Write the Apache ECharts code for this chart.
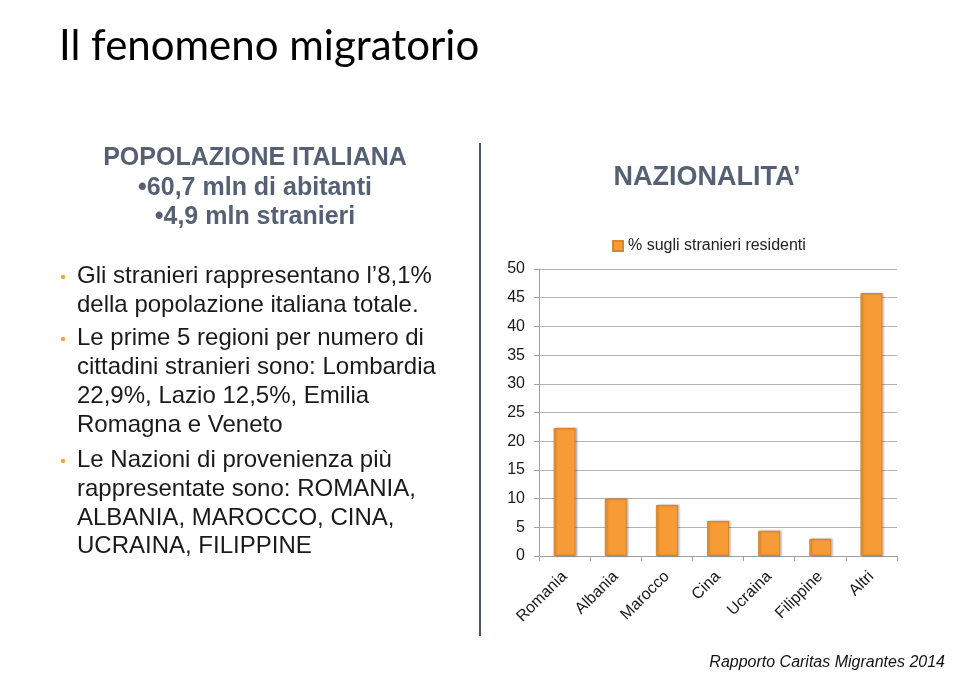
<!DOCTYPE html>
<html>
<head>
<meta charset="utf-8">
<script src="https://cdn.jsdelivr.net/npm/echarts@6/dist/echarts.min.js"></script>
<style>
  html, body { margin: 0; padding: 0; background: #fff; }
  #chart { width: 960px; height: 674px; }
</style>
</head>
<body>
<div id="chart"></div>
<script>
var nazioni = ['Romania', 'Albania', 'Marocco', 'Cina', 'Ucraina', 'Filippine', 'Altri'];
var percentuali = [22.3, 10.0, 8.9, 6.1, 4.4, 3.0, 45.8];
var yTicks = [0, 5, 10, 15, 20, 25, 30, 35, 40, 45, 50];
var nomeSerie = '% sugli stranieri residenti';

var testoBlu = '#566075';
var arial = '"Liberation Sans", Arial, sans-serif';
var puntiLista = [
    { y: 276, text: 'Gli stranieri rappresentano l\u20198,1%' },
    { y: 305, text: 'della popolazione italiana totale.', noBullet: true },
    { y: 338, text: 'Le prime 5 regioni per numero di' },
    { y: 367, text: 'cittadini stranieri sono: Lombardia', noBullet: true },
    { y: 396, text: '22,9%, Lazio 12,5%, Emilia', noBullet: true },
    { y: 425, text: 'Romagna e Veneto', noBullet: true },
    { y: 460, text: 'Le Nazioni di provenienza più' },
    { y: 489, text: 'rappresentate sono: ROMANIA,', noBullet: true },
    { y: 518, text: 'ALBANIA, MAROCCO, CINA,', noBullet: true },
    { y: 546, text: 'UCRAINA, FILIPPINE', noBullet: true }
];

var chart = echarts.init(document.getElementById('chart'));

// elementi di testo della slide
var grafica = [
    { type: 'text', x: 59, y: 25, style: { text: 'Il fenomeno migratorio', font: '42px Lato, sans-serif', fill: '#000', verticalAlign: 'top' } },
    { type: 'text', x: 255, y: 158, style: { text: 'POPOLAZIONE ITALIANA', font: 'bold 25px ' + arial, fill: testoBlu, align: 'center', verticalAlign: 'middle' } },
    { type: 'text', x: 255, y: 188, style: { text: '\u202260,7 mln di abitanti', font: 'bold 25px ' + arial, fill: testoBlu, align: 'center', verticalAlign: 'middle' } },
    { type: 'text', x: 255, y: 217, style: { text: '\u20224,9 mln stranieri', font: 'bold 25px ' + arial, fill: testoBlu, align: 'center', verticalAlign: 'middle' } },
    { type: 'line', shape: { x1: 480, y1: 143, x2: 480, y2: 636 }, style: { stroke: '#4d5566', lineWidth: 2 } },
    { type: 'text', right: 15, top: 655, style: { text: 'Rapporto Caritas Migrantes 2014', font: 'italic 16px ' + arial, fill: '#111' } }
];
puntiLista.forEach(function (p) {
    if (!p.noBullet) {
        grafica.push({ type: 'circle', shape: { cx: 63, cy: p.y + 1, r: 2.2 }, style: { fill: '#f0a830' } });
    }
    grafica.push({ type: 'text', x: 77, y: p.y, style: { text: p.text, font: '24px ' + arial, fill: '#1a1a1a', verticalAlign: 'middle' } });
});

var option = {
    animation: false,
    title: {
        text: 'NAZIONALITA\u2019',
        left: 702,
        top: 159,
        textAlign: 'center',
        textStyle: { fontFamily: arial, fontWeight: 'bold', fontSize: 27, color: testoBlu }
    },
    legend: {
        data: [{ name: nomeSerie, icon: 'rect' }],
        left: 607,
        top: 233,
        itemWidth: 10,
        itemHeight: 10,
        itemGap: 4,
        textStyle: { fontFamily: arial, fontSize: 16, color: '#222' }
    },
    grid: { left: 539, top: 269, right: 63, bottom: 118, containLabel: false },
    xAxis: {
        type: 'category',
        data: nazioni,
        axisLine: { lineStyle: { color: '#a0a0a0' } },
        axisTick: { show: true, length: 5, lineStyle: { color: '#a0a0a0' } },
        axisLabel: {
            rotate: 45,
            interval: 0,
            margin: 18,
            fontFamily: arial,
            fontSize: 16,
            color: '#1a1a1a'
        }
    },
    yAxis: {
        type: 'value',
        min: yTicks[0],
        max: yTicks[yTicks.length - 1],
        interval: 5,
        axisLine: { show: true, lineStyle: { color: '#a0a0a0' } },
        axisTick: { show: true, length: 5, lineStyle: { color: '#a0a0a0' } },
        splitLine: { lineStyle: { color: '#b4b4b4' } },
        axisLabel: { margin: 14, fontFamily: arial, fontSize: 16, color: '#1a1a1a' }
    },
    series: [{
        name: nomeSerie,
        type: 'bar',
        data: percentuali,
        barWidth: 22,
        itemStyle: {
            color: '#f79b36',
            borderColor: '#d9862c',
            borderWidth: 1,
            shadowColor: 'rgba(0,0,0,0.25)',
            shadowOffsetX: 1.5,
            shadowOffsetY: 0,
            shadowBlur: 2
        }
    }],
    graphic: grafica
};

chart.setOption(option);
</script>
</body>
</html>
